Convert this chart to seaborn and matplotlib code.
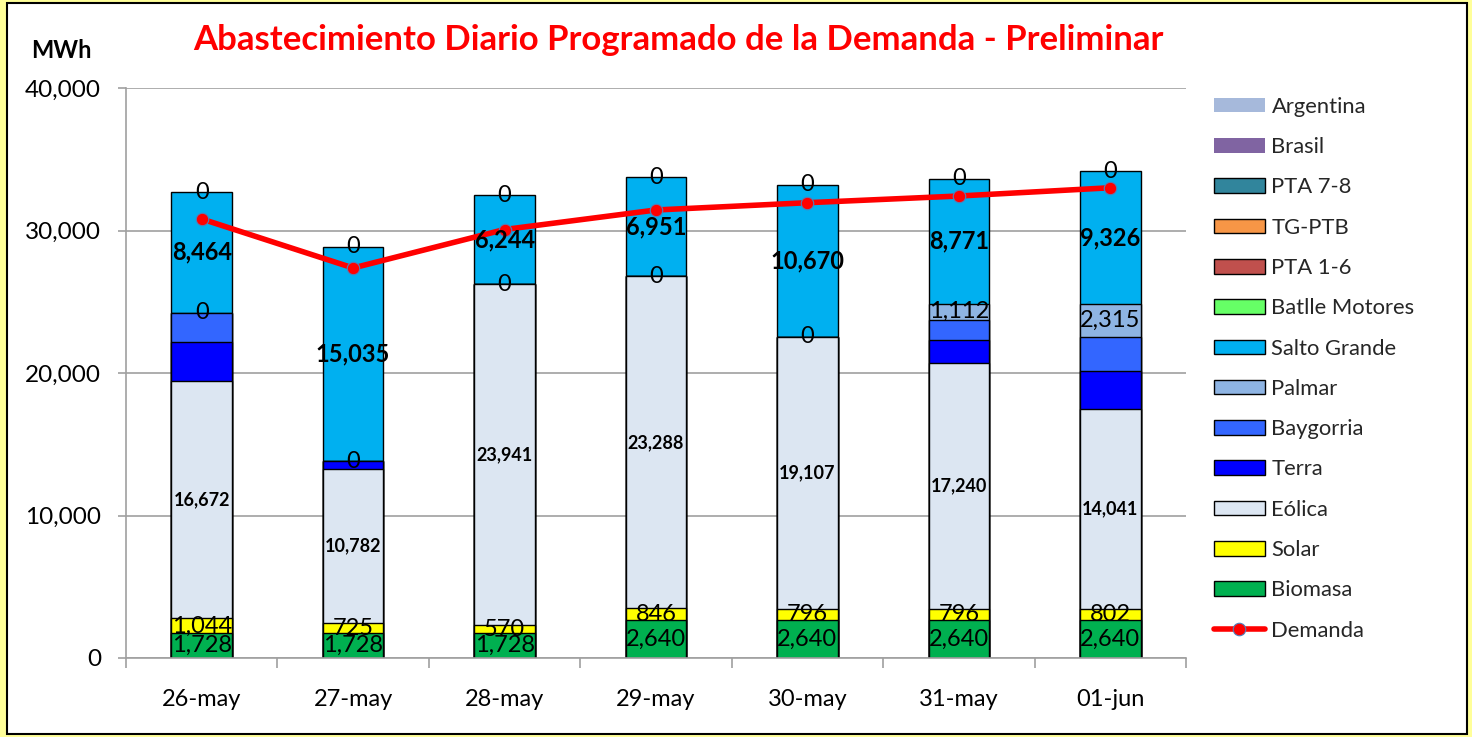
import numpy as np
import pandas as pd
import matplotlib
matplotlib.use("Agg")
import matplotlib.pyplot as plt
import seaborn as sns
from matplotlib.patches import Patch, Rectangle
from matplotlib.lines import Line2D
from matplotlib.ticker import FuncFormatter, FixedLocator

# ---------------- data ----------------
categories = ['26-may', '27-may', '28-may', '29-may', '30-may', '31-may', '01-jun']
biomasa = [1728, 1728, 1728, 2640, 2640, 2640, 2640]
solar = [1044, 725, 570, 846, 796, 796, 802]
eolica = [16672, 10782, 23941, 23288, 19107, 17240, 14041]
terra = [2706, 580, 0, 0, 0, 1640, 2680]
baygorria = [2080, 0, 0, 0, 0, 1430, 2345]
palmar = [0, 0, 0, 0, 0, 1112, 2315]
salto_grande = [8464, 15035, 6244, 6951, 10670, 8771, 9326]
batlle_motores = [0, 0, 0, 0, 0, 0, 0]
pta_1_6 = [0, 0, 0, 0, 0, 0, 0]
tg_ptb = [0, 0, 0, 0, 0, 0, 0]
pta_7_8 = [0, 0, 0, 0, 0, 0, 0]
brasil = [0, 0, 0, 0, 0, 0, 0]
argentina = [0, 0, 0, 0, 0, 0, 0]
demanda = [30810, 27370, 30070, 31440, 31950, 32420, 33000]

series_names = ['Biomasa', 'Solar', 'Eólica', 'Terra', 'Baygorria', 'Palmar',
                'Salto Grande', 'Batlle Motores', 'PTA 1-6', 'TG-PTB', 'PTA 7-8',
                'Brasil', 'Argentina']
series_values = [biomasa, solar, eolica, terra, baygorria, palmar, salto_grande,
                 batlle_motores, pta_1_6, tg_ptb, pta_7_8, brasil, argentina]
legend_names = ['Argentina', 'Brasil', 'PTA 7-8', 'TG-PTB', 'PTA 1-6', 'Batlle Motores',
                'Salto Grande', 'Palmar', 'Baygorria', 'Terra', 'Eólica', 'Solar', 'Biomasa']

colors = {
    'Biomasa': '#00B050', 'Solar': '#FFFF00', 'Eólica': '#DCE6F2', 'Terra': '#0000FF',
    'Baygorria': '#3366FF', 'Palmar': '#8EB4E3', 'Salto Grande': '#00B0F0',
    'Batlle Motores': '#66FF66', 'PTA 1-6': '#C0504D', 'TG-PTB': '#F79646',
    'PTA 7-8': '#31859C', 'Brasil': '#8064A2', 'Argentina': '#A6B9DB',
}
no_edge = {'Brasil', 'Argentina'}

# ---------------- figure ----------------
sns.set_theme(style="white")
plt.rcParams['font.family'] = ['Lato', 'DejaVu Sans']

W, H = 1472, 737
fig = plt.figure(figsize=(W / 100, H / 100), dpi=100)
fig.patch.set_facecolor('#FFFF99')
fig.patches.append(Rectangle((7 / W, 3 / H), (1467 - 7) / W, (734 - 3) / H,
                             transform=fig.transFigure, facecolor='white',
                             edgecolor='black', linewidth=1.5, zorder=-5))

ax = fig.add_axes([126 / W, 1 - 658 / H, (1186 - 126) / W, (658 - 88) / H])
ax.set_zorder(1)
ax.set_facecolor('none')

df = pd.DataFrame({'cat': categories})
cum = np.zeros(len(categories))
bottoms = {}
tops = {}
for name, vals in zip(series_names, series_values):
    bottoms[name] = cum.copy()
    cum = cum + np.array(vals, dtype=float)
    tops[name] = cum.copy()

# draw stacked bars: tallest cumulative first, then overlay smaller
for name in reversed(series_names):
    if np.all(np.array(series_values[series_names.index(name)]) == 0):
        continue
    df['y'] = tops[name]
    sns.barplot(data=df, x='cat', y='y', color=colors[name], saturation=1,
                width=0.4, edgecolor='black' if name not in no_edge else 'none',
                linewidth=1.0, ax=ax, zorder=2)

# demand line
sns.pointplot(x=categories, y=demanda, color='#FF0000', markers='o', linestyles='-',
              linewidth=4, markersize=9, ax=ax, zorder=5,
              markeredgecolor='#4F81BD', markeredgewidth=0.8)

# labels
xs = np.arange(len(categories))
def lab(name, fmt_kw):
    vals = series_values[series_names.index(name)]
    for i, v in enumerate(vals):
        yc = (bottoms[name][i] + tops[name][i]) / 2
        ax.text(xs[i], yc, f"{v:,.0f}", ha='center', va='center', zorder=6,
                color='black', **fmt_kw)

lab('Biomasa', dict(fontsize=17))
lab('Solar', dict(fontsize=17))
lab('Eólica', dict(fontsize=13, fontweight='bold'))
lab('Palmar', dict(fontsize=17))
lab('Salto Grande', dict(fontsize=17, fontweight='bold'))
lab('Batlle Motores', dict(fontsize=17))

# axes styling
ax.set_xlim(-0.5, len(categories) - 0.5)
ax.set_ylim(0, 40000)
ax.set_yticks([0, 10000, 20000, 30000, 40000])
ax.yaxis.set_major_formatter(FuncFormatter(lambda v, p: f"{v:,.0f}"))
ax.set_xlabel('')
ax.set_ylabel('')
ax.grid(axis='y', color='#A0A0A0', linewidth=1.2, zorder=0)
ax.set_axisbelow(True)
for s in ['top', 'right']:
    ax.spines[s].set_visible(False)
for s in ['left', 'bottom']:
    ax.spines[s].set_color('#A0A0A0')
    ax.spines[s].set_linewidth(1.2)
ax.tick_params(axis='y', which='major', length=6, color='#A0A0A0', width=1.2,
               labelsize=17.5, pad=12, left=True)
ax.tick_params(axis='x', which='major', length=0, labelsize=17, pad=22)
ax.xaxis.set_minor_locator(FixedLocator(np.arange(-0.5, len(categories), 1.0)))
ax.tick_params(axis='x', which='minor', length=7, color='#A0A0A0', width=1.2,
               bottom=True)
for t in ax.get_xticklabels() + ax.get_yticklabels():
    t.set_color('black')

# title and unit
fig.text(678 / W, 1 - 40 / H, 'Abastecimiento Diario Programado de la Demanda - Preliminar',
         ha='center', va='center', color='#FF0000', fontsize=25, fontweight='bold')
fig.text(61 / W, 1 - 50 / H, 'MWh', ha='center', va='center', color='black',
         fontsize=17, fontweight='bold')

# legend
handles = []
for name in legend_names:
    handles.append(Patch(facecolor=colors[name],
                         edgecolor='none' if name in no_edge else 'black',
                         linewidth=1.0, label=name))
handles.append(Line2D([0], [0], color='#FF0000', linewidth=4, marker='o', markersize=9,
                      markeredgecolor='#4F81BD', markeredgewidth=0.8, label='Demanda'))
leg = fig.legend(handles=handles, loc='upper left', bbox_to_anchor=(1205 / W, 1 - 88 / H),
                 frameon=False, fontsize=15.8, handlelength=2.33, handleheight=0.64,
                 labelspacing=0.925, handletextpad=0.3, borderaxespad=0)

fig.savefig('out.png', dpi=100, facecolor=fig.get_facecolor())
